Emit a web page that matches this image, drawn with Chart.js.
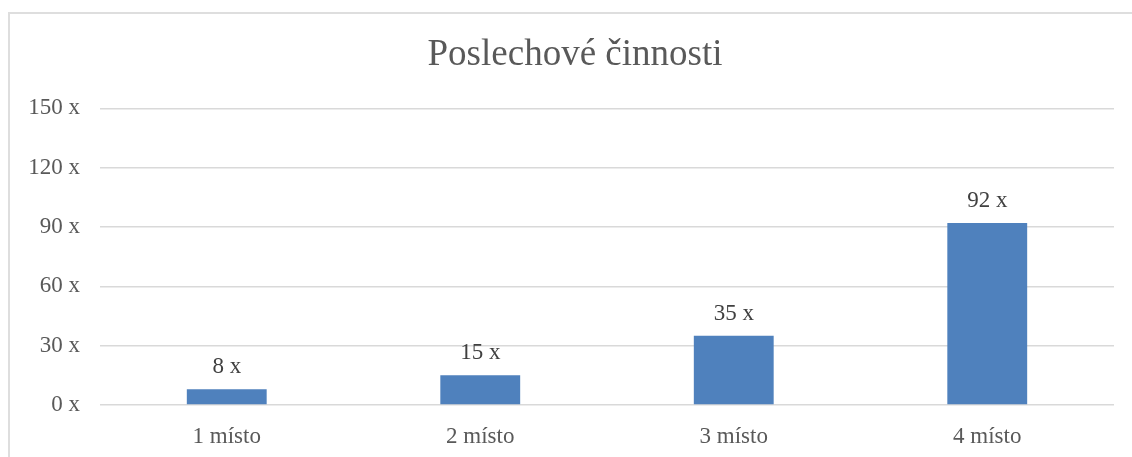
<!DOCTYPE html>
<html>
<head>
<meta charset="utf-8">
<script src="https://cdn.jsdelivr.net/npm/chart.js@4.4.1/dist/chart.umd.min.js"></script>
<style>
  html, body { margin: 0; padding: 0; background: #fff; }
  #frame { position: absolute; left: 8px; top: 12px; width: 1140px; height: 460px; border: 2px solid #dedede; box-sizing: border-box; }
  #wrap { position: absolute; left: 0; top: 0; width: 1132px; height: 457px; }
</style>
</head>
<body>
<div id="frame"></div>
<div id="wrap"><canvas id="chart"></canvas></div>
<script>
// chart data
const categories = ['1 místo', '2 místo', '3 místo', '4 místo'];
const counts = [8, 15, 35, 92];
const yTicks = [0, 30, 60, 90, 120, 150];

const serif = "'Liberation Serif', 'Times New Roman', serif";

// value labels above bars
const barLabels = {
  id: 'barLabels',
  afterDatasetsDraw(chart) {
    const ctx = chart.ctx;
    const meta = chart.getDatasetMeta(0);
    ctx.save();
    ctx.font = '23px ' + serif;
    ctx.fillStyle = '#404040';
    ctx.textAlign = 'center';
    ctx.textBaseline = 'middle';
    meta.data.forEach((bar, i) => {
      ctx.fillText(counts[i] + ' x', bar.x, bar.y - 22);
    });
    ctx.restore();
  }
};

// title is centred on the whole frame, not on the plot block
const titleShift = {
  id: 'titleShift',
  afterLayout(chart) {
    if (chart.titleBlock) chart.titleBlock.left += 36;
  }
};

new Chart(document.getElementById('chart').getContext('2d'), {
  type: 'bar',
  data: {
    labels: categories,
    datasets: [{
      data: counts,
      backgroundColor: '#4F81BD',
      borderWidth: 0,
      categoryPercentage: 1,
      barPercentage: 0.315
    }]
  },
  options: {
    responsive: true,
    maintainAspectRatio: false,
    animation: false,
    layout: { padding: { top: 0, right: 18, bottom: 8, left: 0 } },
    plugins: {
      legend: { display: false },
      tooltip: { enabled: false },
      title: {
        display: true,
        text: 'Poslechové činnosti',
        color: '#595959',
        font: { family: serif, size: 37, weight: 'normal', lineHeight: 1.2 },
        padding: { top: 33, bottom: 31 }
      }
    },
    scales: {
      x: {
        afterFit: s => { s.height = 44; },
        grid: { display: false, drawTicks: false },
        border: { display: false },
        ticks: { color: '#595959', font: { family: serif, size: 23 }, padding: 18 }
      },
      y: {
        min: 0,
        max: 150,
        afterBuildTicks: s => { s.ticks = yTicks.map(v => ({ value: v })); },
        afterFit: s => { s.width = 100; },
        grid: { color: '#d9d9d9', lineWidth: 1.5, drawTicks: false },
        border: { display: false },
        ticks: { color: '#595959', font: { family: serif, size: 23 }, padding: 20, callback: v => v + ' x' }
      }
    }
  },
  plugins: [barLabels, titleShift]
});
</script>
</body>
</html>
